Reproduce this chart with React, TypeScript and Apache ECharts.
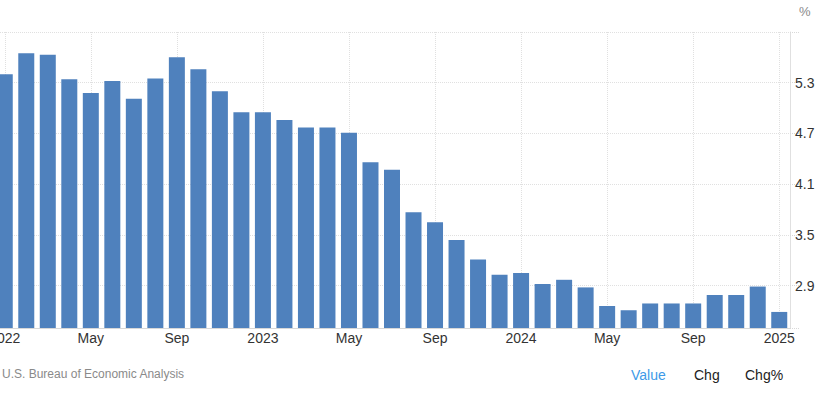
import React, { useEffect, useRef } from "react";
import * as echarts from "echarts";

const months = [
  "Jan 2022", "Feb 2022", "Mar 2022", "Apr 2022", "May 2022", "Jun 2022",
  "Jul 2022", "Aug 2022", "Sep 2022", "Oct 2022", "Nov 2022", "Dec 2022",
  "Jan 2023", "Feb 2023", "Mar 2023", "Apr 2023", "May 2023", "Jun 2023",
  "Jul 2023", "Aug 2023", "Sep 2023", "Oct 2023", "Nov 2023", "Dec 2023",
  "Jan 2024", "Feb 2024", "Mar 2024", "Apr 2024", "May 2024", "Jun 2024",
  "Jul 2024", "Aug 2024", "Sep 2024", "Oct 2024", "Nov 2024", "Dec 2024",
  "Jan 2025",
];

const values = [
  5.4, 5.65, 5.63, 5.34, 5.18, 5.32, 5.11, 5.35, 5.6, 5.46, 5.2, 4.95,
  4.95, 4.86, 4.77, 4.77, 4.71, 4.36, 4.27, 3.77, 3.65, 3.44, 3.21, 3.03,
  3.05, 2.92, 2.97, 2.88, 2.66, 2.61, 2.69, 2.69, 2.69, 2.79, 2.79, 2.89,
  2.59,
];

const yTickLabels = [2.9, 3.5, 4.1, 4.7, 5.3];
const yGridValues = [2.4, 2.9, 3.5, 4.1, 4.7, 5.3, 5.9];

const sourceText = "U.S. Bureau of Economic Analysis";
const tabs = ["Value", "Chg", "Chg%"];
const unitText = "%";

const FONT = "'Liberation Sans', Arial, sans-serif";

export default function App() {
  const ref = useRef<HTMLDivElement>(null);

  useEffect(() => {
    if (!ref.current) return;
    const chart = echarts.init(ref.current, undefined, { renderer: "svg" });
    chart.setOption({
      animation: false,
      backgroundColor: "#ffffff",
      textStyle: { fontFamily: FONT },
      grid: {
        left: -6,
        right: 36,
        top: 32,
        bottom: 66,
        containLabel: false,
        outerBoundsMode: "none",
      },
      xAxis: {
        type: "category",
        data: months,
        boundaryGap: true,
        axisLine: { show: true, lineStyle: { color: "#d8d8d8", width: 1 } },
        axisTick: { show: false },
        axisLabel: {
          interval: 3,
          margin: 3,
          fontSize: 14,
          color: "#333333",
          fontFamily: FONT,
          hideOverlap: false,
          formatter: (v: string) => {
            const [m, y] = v.split(" ");
            return m === "Jan" ? y : m;
          },
        },
        splitLine: {
          show: true,
          interval: 3,
          alignWithLabel: true,
          lineStyle: { color: "#e0e0e0", type: "dotted", width: 1 },
        },
      },
      yAxis: {
        type: "value",
        position: "right",
        min: 2.4,
        max: 5.9,
        axisLine: { show: true, lineStyle: { color: "#e0e0e0", width: 1 } },
        axisTick: {
          show: true,
          inside: false,
          length: 10,
          customValues: yGridValues,
          lineStyle: { color: "#d8d8d8", type: "dotted", width: 1 },
        },
        axisLabel: {
          customValues: yTickLabels,
          margin: 5,
          fontSize: 14,
          color: "#333333",
          fontFamily: FONT,
          padding: [0, 0, 4, 0],
          formatter: (v: number) => v.toFixed(1),
        },
        splitLine: {
          show: true,
          customValues: yGridValues,
          lineStyle: { color: "#e0e0e0", type: "dotted", width: 1 },
        },
      },
      series: [
        {
          type: "bar",
          data: values,
          barWidth: 16,
          itemStyle: { color: "#4f81bd" },
          z: 2,
        },
      ],
      graphic: [
        {
          type: "text",
          left: 799,
          top: 5,
          style: { text: unitText, fontSize: 13, fill: "#8a8a8a", fontFamily: FONT },
        },
        {
          type: "text",
          x: 2,
          y: 374,
          style: {
            text: sourceText,
            fontSize: 12,
            fill: "#8a8a8a",
            fontFamily: FONT,
            verticalAlign: "middle",
          },
        },
        {
          type: "text",
          x: 631,
          y: 375,
          style: { text: tabs[0], fontSize: 14, fill: "#3d9ae8", fontFamily: FONT, verticalAlign: "middle" },
        },
        {
          type: "text",
          x: 694,
          y: 375,
          style: { text: tabs[1], fontSize: 14, fill: "#222222", fontFamily: FONT, verticalAlign: "middle" },
        },
        {
          type: "text",
          x: 745,
          y: 375,
          style: { text: tabs[2], fontSize: 14, fill: "#222222", fontFamily: FONT, verticalAlign: "middle" },
        },
      ],
    });
    return () => chart.dispose();
  }, []);

  return (
    <div
      ref={ref}
      style={{ position: "fixed", left: 0, top: 0, width: 826, height: 394 }}
    />
  );
}
